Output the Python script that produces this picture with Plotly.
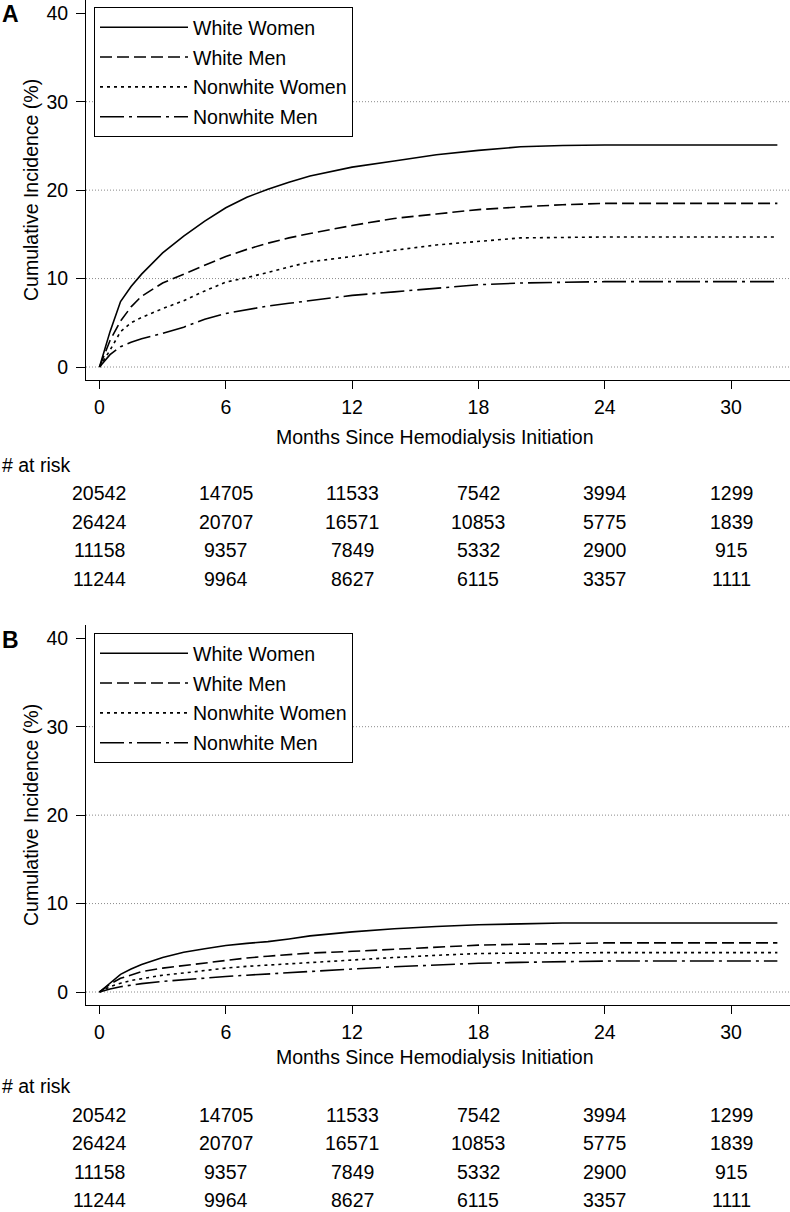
import plotly.graph_objects as go

# ---------------- data ----------------
series_names = ["White Women", "White Men", "Nonwhite Women", "Nonwhite Men"]
months = [0, 0.5, 1, 1.5, 2, 3, 4, 5, 6, 7, 8, 9, 10, 12, 14, 16, 18, 20, 22, 24, 32.2]

a_white_women = [0, 4.0, 7.4, 9.1, 10.5, 12.9, 14.8, 16.5, 18.0, 19.2, 20.1, 20.9, 21.6, 22.6, 23.3, 24.0, 24.5, 24.9, 25.05, 25.1, 25.1]
a_white_men = [0, 3.0, 5.2, 6.8, 8.0, 9.5, 10.5, 11.5, 12.5, 13.3, 14.0, 14.6, 15.1, 16.0, 16.8, 17.3, 17.8, 18.1, 18.35, 18.5, 18.5]
a_nonwhite_women = [0, 1.9, 4.0, 5.0, 5.6, 6.6, 7.5, 8.6, 9.6, 10.1, 10.7, 11.3, 11.9, 12.5, 13.2, 13.8, 14.2, 14.6, 14.65, 14.7, 14.7]
a_nonwhite_men = [0, 1.4, 2.3, 2.8, 3.2, 3.8, 4.5, 5.4, 6.05, 6.5, 6.9, 7.2, 7.5, 8.1, 8.5, 8.9, 9.3, 9.5, 9.6, 9.65, 9.65]

b_white_women = [0, 1.0, 2.0, 2.6, 3.1, 3.9, 4.5, 4.9, 5.25, 5.5, 5.7, 6.0, 6.35, 6.8, 7.15, 7.4, 7.6, 7.7, 7.8, 7.8, 7.8]
b_white_men = [0, 0.9, 1.55, 1.95, 2.3, 2.7, 3.0, 3.3, 3.6, 3.85, 4.05, 4.25, 4.4, 4.6, 4.85, 5.1, 5.3, 5.4, 5.5, 5.55, 5.55]
b_nonwhite_women = [0, 0.6, 1.0, 1.3, 1.5, 1.9, 2.15, 2.45, 2.7, 2.9, 3.05, 3.2, 3.3, 3.6, 3.9, 4.15, 4.35, 4.4, 4.45, 4.45, 4.45]
b_nonwhite_men = [0, 0.35, 0.6, 0.8, 0.95, 1.2, 1.4, 1.6, 1.75, 1.9, 2.05, 2.2, 2.35, 2.6, 2.85, 3.05, 3.25, 3.35, 3.45, 3.5, 3.5]

x_ticks = [0, 6, 12, 18, 24, 30]
y_ticks = [0, 10, 20, 30, 40]
grid_vals = [0, 10, 20, 30]

risk_white_women = [20542, 14705, 11533, 7542, 3994, 1299]
risk_white_men = [26424, 20707, 16571, 10853, 5775, 1839]
risk_nonwhite_women = [11158, 9357, 7849, 5332, 2900, 915]
risk_nonwhite_men = [11244, 9964, 8627, 6115, 3357, 1111]

# ---------------- styling ----------------
FONT = "Liberation Sans, Arial, Helvetica, sans-serif"
FS = 19.5
W, H = 790, 1212
L = 86
PW = W - L

dashes = ["solid", "12px,5px", "3px,4px", "24px,5px,3px,5px"]

def py(p):
    return 1 - p / H

def px(p):
    return (p - L) / PW

fig = go.Figure()

panels = [
    dict(letter="A", x="x", y="y", legend="legend",
         data=[a_white_women, a_white_men, a_nonwhite_women, a_nonwhite_men],
         top=0, bottom=380, title_y=437, risk_title_y=465,
         rows_y=[493, 522, 550, 579], letter_y=14),
    dict(letter="B", x="x2", y="y2", legend="legend2",
         data=[b_white_women, b_white_men, b_nonwhite_women, b_nonwhite_men],
         top=625, bottom=1005, title_y=1057, risk_title_y=1086,
         rows_y=[1115, 1143, 1172, 1200], letter_y=640),
]

risk_rows = [risk_white_women, risk_white_men, risk_nonwhite_women, risk_nonwhite_men]

annotations = []
shapes = []

for p in panels:
    for name, vals, dash in zip(series_names, p["data"], dashes):
        fig.add_trace(go.Scatter(
            x=months, y=vals, mode="lines", name=name,
            line=dict(color="black", width=1.6, dash=dash),
            xaxis=p["x"], yaxis=p["y"], legend=p["legend"],
            legendgroup=p["letter"] + name, hoverinfo="skip",
        ))
    for g in grid_vals:
        shapes.append(dict(type="line", xref=p["x"] + " domain", x0=0, x1=1,
                           yref=p["y"], y0=g, y1=g, layer="below",
                           line=dict(color="#8a8a8a", width=1, dash="1px,2px")))
    annotations.append(dict(text="<b>%s</b>" % p["letter"], xref="paper", yref="paper",
                            x=px(0), y=py(p["letter_y"]), xanchor="left", yanchor="middle",
                            showarrow=False, font=dict(family=FONT, size=23, color="black")))
    annotations.append(dict(text="Cumulative Incidence (%)", xref="paper", yref="paper",
                            x=px(31), y=py((p["top"] + p["bottom"]) / 2), textangle=-90,
                            xanchor="center", yanchor="middle", showarrow=False,
                            font=dict(family=FONT, size=FS, color="black")))
    annotations.append(dict(text="Months Since Hemodialysis Initiation", xref="paper", yref="paper",
                            x=px(435), y=py(p["title_y"]), xanchor="center", yanchor="middle",
                            showarrow=False, font=dict(family=FONT, size=FS, color="black")))
    annotations.append(dict(text="# at risk", xref="paper", yref="paper",
                            x=px(0), y=py(p["risk_title_y"]), xanchor="left", yanchor="middle",
                            showarrow=False, font=dict(family=FONT, size=FS, color="black")))
    for row, ry in zip(risk_rows, p["rows_y"]):
        for m, v in zip(x_ticks, row):
            annotations.append(dict(text=str(v), xref=p["x"], yref="paper",
                                    x=m, y=py(ry), xanchor="center", yanchor="middle",
                                    showarrow=False, font=dict(family=FONT, size=FS, color="black")))

axis_common = dict(showline=True, linecolor="black", linewidth=1, ticks="outside",
                   tickcolor="black", tickwidth=1, showgrid=False, zeroline=False,
                   tickfont=dict(family=FONT, size=FS, color="black"), fixedrange=True)

xr = [-0.641, 32.80]
yr = [-1.47, 41.50]

legend_common = dict(bgcolor="white", bordercolor="black", borderwidth=1,
                     font=dict(family=FONT, size=FS, color="black"),
                     itemwidth=88, tracegroupgap=1.5, xanchor="left", yanchor="top",
                     traceorder="grouped")

fig.update_layout(
    width=W, height=H,
    margin=dict(l=L, r=0, t=0, b=0),
    paper_bgcolor="white", plot_bgcolor="white",
    font=dict(family=FONT, size=FS, color="black"),
    xaxis=dict(domain=[0, 1], anchor="y", range=xr, tickvals=x_ticks, ticklen=8,
               ticklabelstandoff=2, **axis_common),
    yaxis=dict(domain=[py(380), 1], anchor="x", range=yr, tickvals=y_ticks, ticklen=9,
               ticklabelstandoff=4, **axis_common),
    xaxis2=dict(domain=[0, 1], anchor="y2", range=xr, tickvals=x_ticks, ticklen=8,
                ticklabelstandoff=2, **axis_common),
    yaxis2=dict(domain=[py(1005), py(625)], anchor="x2", range=yr, tickvals=y_ticks, ticklen=9,
                ticklabelstandoff=4, **axis_common),
    legend=dict(x=px(94), y=py(7), **legend_common),
    legend2=dict(x=px(94), y=py(633), **legend_common),
    annotations=annotations,
    shapes=shapes,
    showlegend=True,
)

fig.write_html("out.html", config={"displayModeBar": False},
               post_script="document.body.style.margin='0px';document.body.style.overflow='hidden';")
